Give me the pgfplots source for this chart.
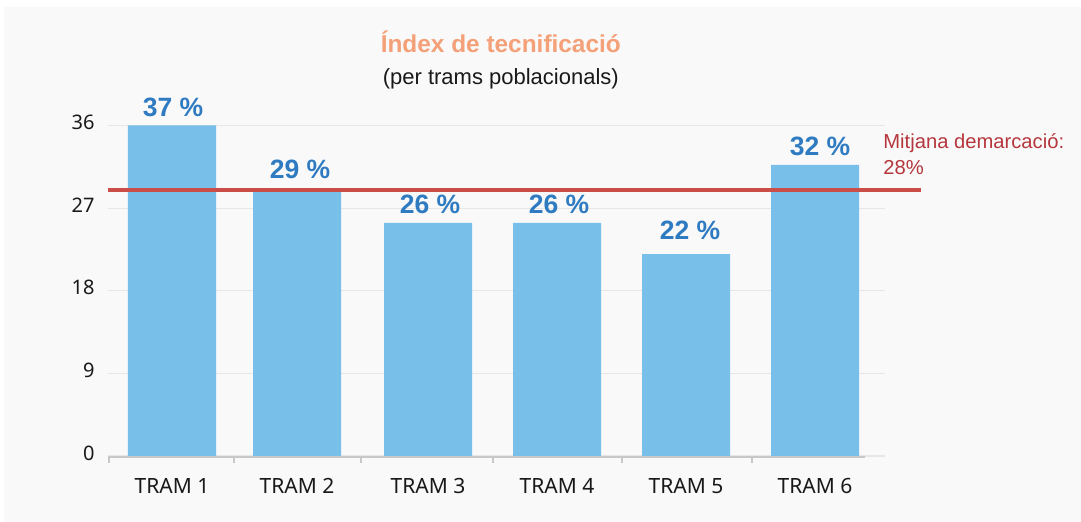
\documentclass[border=0pt]{standalone}
\usepackage{fontspec}
\setmainfont{Liberation Sans}
\newfontfamily\notosans{Noto Sans}
\usepackage{pgfplots}
\pgfplotsset{compat=1.18}
\definecolor{bgc}{HTML}{F9F9F9}
\definecolor{gridc}{HTML}{E6E6E6}
\definecolor{axisc}{HTML}{C8C8C8}
\definecolor{barc}{HTML}{78C0EA}
\definecolor{lblc}{HTML}{2F7BC2}
\definecolor{redl}{HTML}{CB4D48}
\definecolor{redt}{HTML}{B5373D}
\definecolor{titc}{HTML}{F4A078}
\begin{document}
\begin{tikzpicture}
\fill[white] (0,0) rectangle (540.5pt,261pt);
\fill[bgc] (2pt,0) rectangle (540.5pt,257.5pt);
\begin{axis}[
  at={(54pt,33pt)}, anchor=south west, scale only axis,
  width=388.5pt, height=165.25pt,
  xmin=108, xmax=885, ymin=0, ymax=36,
  axis line style={draw=none},
  ytick={0,9,18,27,36},
  ymajorgrids, grid style={color=gridc, line width=0.6pt},
  xtick={172,297,428,557,686,815},
  xticklabels={TRAM 1,TRAM 2,TRAM 3,TRAM 4,TRAM 5,TRAM 6},
  minor xtick={109,234,361,493,622,752},
  major tick length=0pt, minor tick length=3.5pt, tick align=outside,
  xtick pos=bottom, ytick pos=left,
  minor tick style={color=axisc, line width=0.6pt},
  xticklabel style={font=\notosans\fontsize{10.5}{12}\selectfont, text=black!90, anchor=base, inner sep=0pt, yshift=-19pt},
  yticklabel style={font=\notosans\fontsize{10}{12}\selectfont, text=black!90, anchor=east, inner sep=0pt, xshift=-6.5pt, yshift=1.5pt},
  /pgf/number format/assume math mode=true,
  clip=false,
]
\addplot[ybar, bar width=44pt, bar shift=0pt, fill=barc, draw=none]
  coordinates {(172,36) (297,28.8) (428,25.4) (557,25.4) (686,22.0) (815,31.7)};
\draw[axisc, line width=0.8pt] ([yshift=-0.5pt]axis cs:108,0) -- ([yshift=-0.5pt]axis cs:865,0);
\addplot[redl, line width=2pt, mark=none] coordinates {(108,29) (921,29)};
\addplot[only marks, mark=none, nodes near coords, point meta=explicit symbolic,
  nodes near coords style={anchor=base, inner sep=0pt, yshift=0pt, text=lblc, font=\bfseries\fontsize{13.25}{15}\selectfont}]
  coordinates {(173,36.93)[37 \%] (300,30.25)[29 \%] (430,26.36)[26 \%] (559,26.36)[26 \%] (690,23.53)[22 \%] (820,32.68)[32 \%]};
\end{axis}
\node[anchor=base, inner sep=0pt, text=titc, font=\bfseries\fontsize{12.2}{14}\selectfont] at (250.4pt,234.85pt) {Índex de tecnificació};
\node[anchor=base, inner sep=0pt, text=black!90, font=\fontsize{11}{13}\selectfont] at (250.4pt,218.5pt) {(per trams poblacionals)};
\node[anchor=base west, inner sep=0pt, text=redt, font=\fontsize{10.1}{12}\selectfont] at (441.5pt,186.85pt) {Mitjana demarcació:};
\node[anchor=base west, inner sep=0pt, text=redt, font=\fontsize{10.1}{12}\selectfont] at (441.5pt,173.5pt) {28\%};
\end{tikzpicture}
\end{document}
